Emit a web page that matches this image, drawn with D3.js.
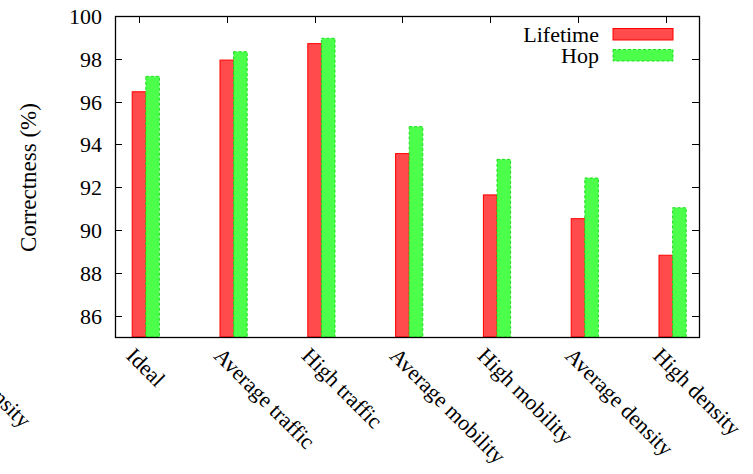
<!DOCTYPE html>
<html>
<head>
<meta charset="utf-8">
<script src="https://cdn.jsdelivr.net/npm/d3@7"></script>
<style>
  html, body { margin: 0; padding: 0; background: #fff; }
  svg { display: block; }
</style>
</head>
<body>
<svg id="chart" width="753" height="474"></svg>
<script>
// Scenario names along the x axis
const categories = ["Ideal", "Average traffic", "High traffic", "Average mobility",
                    "High mobility", "Average density", "High density"];
// Correctness (%) per scenario for each metric
const lifetimeValues = [96.46, 97.94, 98.71, 93.57, 91.64, 90.53, 88.82];
const hopValues      = [97.18, 98.33, 98.96, 94.83, 93.30, 92.43, 91.04];
// Y axis ticks
const yTicks = [86, 88, 90, 92, 94, 96, 98, 100];
const seriesNames = ["Lifetime", "Hop"];

const plotLeft = 115, plotRight = 699, plotTop = 16, plotBottom = 337;
const firstTick = 139, step = 87.8;

const svg = d3.select("#chart");
const font = 22;
// shared text styling
const styleText = sel => sel
  .attr("font-family", "Liberation Serif")
  .style("font-family", '"Liberation Serif"')
  .style("font-size", font + "px")
  .style("fill", "#000");

const x = d3.scaleLinear()
  .domain([(plotLeft - firstTick) / step, (plotRight - firstTick) / step])
  .range([plotLeft, plotRight]);
const y = d3.scaleLinear().domain([85, 100]).range([plotBottom, plotTop]);
const bw = 0.155; // bar width in x units

const series = [
  { name: seriesNames[0], values: lifetimeValues, fill: "#ff4b4b", stroke: "#ff0000", dash: null, start: -0.5 },
  { name: seriesNames[1], values: hopValues, fill: "#4bff4b", stroke: "#1ee01e", dash: "3,2", start: 0.5 }
];

// tick marks (drawn under the bars), mirrored on all four sides
const tickLen = 7;
const tg = svg.append("g").attr("stroke", "#000").attr("stroke-width", 1);
yTicks.forEach(v => {
  const yy = Math.round(y(v)) + 0.5;
  tg.append("line").attr("x1", plotLeft).attr("x2", plotLeft + tickLen).attr("y1", yy).attr("y2", yy);
  tg.append("line").attr("x1", plotRight - tickLen).attr("x2", plotRight).attr("y1", yy).attr("y2", yy);
});
categories.forEach((c, i) => {
  const xx = Math.round(x(i)) + 0.5;
  tg.append("line").attr("x1", xx).attr("x2", xx).attr("y1", plotTop).attr("y2", plotTop + tickLen);
  tg.append("line").attr("x1", xx).attr("x2", xx).attr("y1", plotBottom - tickLen).attr("y2", plotBottom);
});

// bars
series.forEach(s => {
  svg.append("g").selectAll("rect").data(s.values).join("rect")
    .attr("x", (d, i) => x(i + s.start * bw))
    .attr("y", d => y(d))
    .attr("width", x(bw) - x(0))
    .attr("height", d => y(85) - y(d))
    .attr("fill", s.fill)
    .attr("stroke", s.stroke)
    .attr("stroke-width", 1)
    .attr("stroke-dasharray", s.dash);
});

// frame
svg.append("rect")
  .attr("x", plotLeft + 0.5).attr("y", plotTop + 0.5)
  .attr("width", plotRight - plotLeft).attr("height", plotBottom - plotTop)
  .attr("fill", "none").attr("stroke", "#000").attr("stroke-width", 1.3);

// y tick labels
svg.append("g").selectAll("text").data(yTicks).join("text")
  .attr("x", 102).attr("y", d => y(d) + 8)
  .attr("text-anchor", "end")
  .call(styleText)
  .text(d => d);

// x tick labels, rotated
svg.append("g").selectAll("text").data(categories).join("text")
  .attr("transform", (d, i) => `translate(${x(i) - 14},${plotBottom + 20}) rotate(45)`)
  .call(styleText)
  .text(d => d);

// leftover label cut off at the page edge
svg.append("text")
  .attr("transform", `translate(-58,349) rotate(45)`)
  .call(styleText)
  .text("High density");

// y axis title
svg.append("text")
  .attr("transform", `translate(36,${(plotTop + plotBottom) / 2 + 1}) rotate(-90)`)
  .attr("text-anchor", "middle")
  .call(styleText)
  .style("font-size", "23px")
  .text("Correctness (%)");

// legend
const lg = svg.append("g");
series.forEach((s, k) => {
  const base = 42 + k * 21;
  lg.append("text").attr("x", 599).attr("y", base)
    .attr("text-anchor", "end").call(styleText).text(s.name);
  lg.append("rect")
    .attr("x", 613).attr("y", base - 13.5).attr("width", 60).attr("height", 11.5)
    .attr("fill", s.fill).attr("stroke", s.stroke).attr("stroke-width", 1)
    .attr("stroke-dasharray", s.dash);
});
</script>
</body>
</html>
